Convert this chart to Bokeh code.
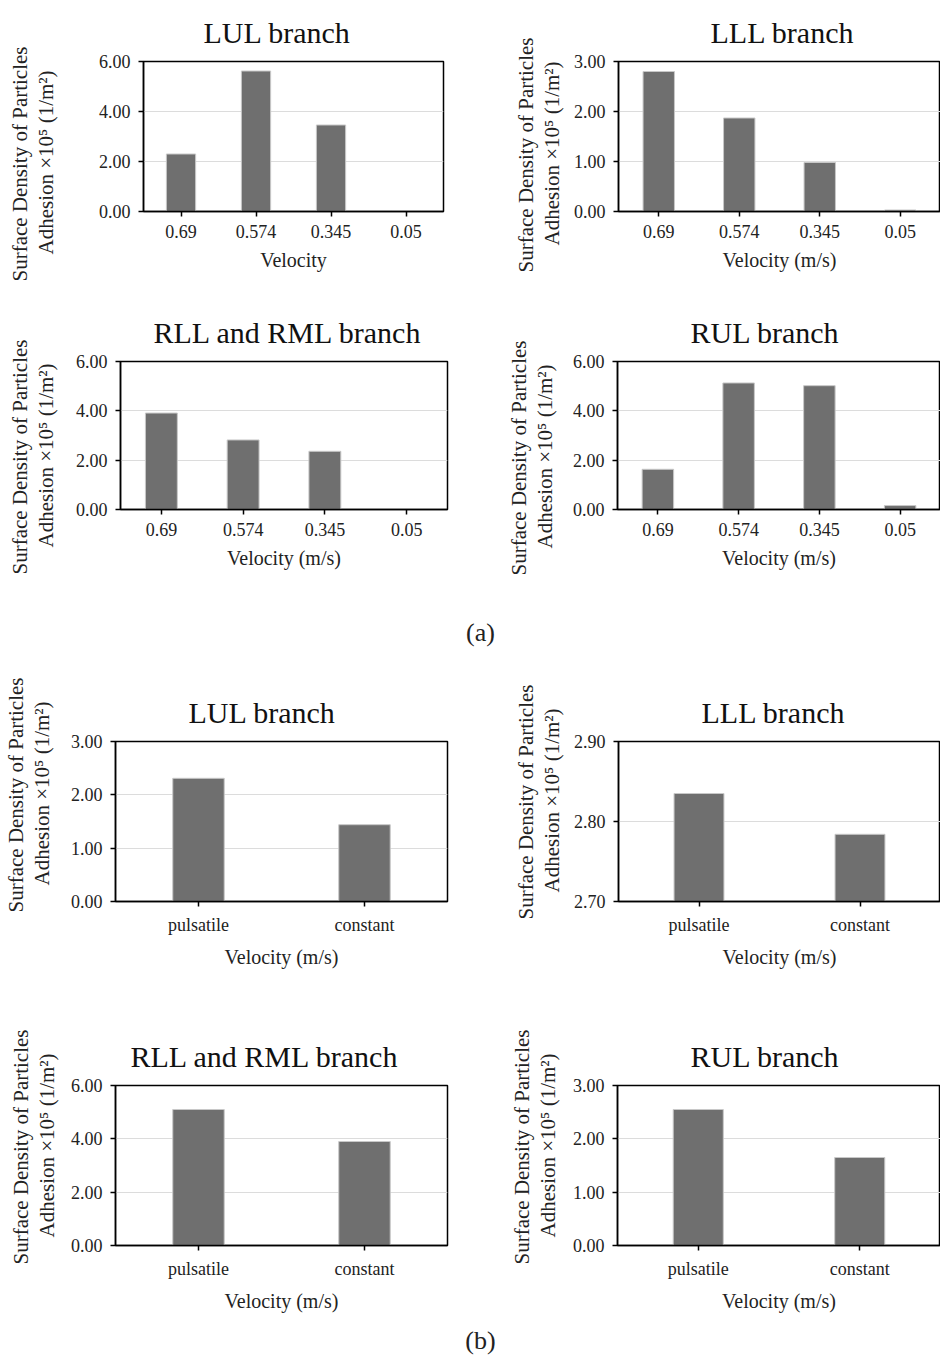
from bokeh.plotting import figure
from bokeh.layouts import column, row
from bokeh.models import FactorRange, Range1d, FixedTicker, NumeralTickFormatter, Title
from bokeh.embed import file_html
from bokeh.resources import INLINE

# ---------------- data ----------------
vel_a = ["0.69", "0.574", "0.345", "0.05"]
vel_b = ["pulsatile", "constant"]

lul_a = [2.30, 5.62, 3.46, 0.03]
lll_a = [2.80, 1.87, 0.98, 0.03]
rll_a = [3.91, 2.82, 2.36, 0.01]
rul_a = [1.63, 5.13, 5.02, 0.16]

lul_b = [2.31, 1.44]
lll_b = [2.835, 2.784]
rll_b = [5.10, 3.90]
rul_b = [2.55, 1.65]

titles = ["LUL branch", "LLL branch", "RLL and RML branch", "RUL branch"]
ylabel_1 = "Surface Density of Particles"
ylabel_2 = "Adhesion \u00d710\u2075 (1/m\u00b2)"
xlabel_a1 = "Velocity"
xlabel = "Velocity (m/s)"

ticks_0_6 = [0, 2, 4, 6]
ticks_0_3 = [0, 1, 2, 3]
ticks_lll_b = [2.7, 2.8, 2.9]

FONT = "Liberation Serif"
BAR = "#6f6f6f"
TXT = "#222222"


def panel(title, cats, vals, yr, ticks, xl, width, height, bl, br, bt, bb,
          bar_w, t_offset, t_standoff, lab_gap, lab_off):
    p = figure(width=width, height=height, x_range=FactorRange(*cats),
               y_range=Range1d(yr[0], yr[1]), output_backend="svg",
               toolbar_location=None, min_border_left=bl, min_border_right=br,
               min_border_top=bt, min_border_bottom=bb)
    p.vbar(x=cats, top=vals, bottom=yr[0], width=bar_w, fill_color=BAR,
           line_color="#c8c8c8", line_width=1)
    p.title.text = title
    p.title.text_font = FONT
    p.title.text_font_size = "30px"
    p.title.text_font_style = "normal"
    p.title.text_color = "#111111"
    p.title.align = "left"
    p.title.standoff = t_standoff
    p.title.offset = t_offset
    p.outline_line_color = "black"
    p.outline_line_width = 1.5
    p.xgrid.grid_line_color = None
    p.ygrid.grid_line_color = "#dcdcdc"
    p.ygrid.grid_line_width = 1.2
    p.yaxis.ticker = FixedTicker(ticks=ticks)
    p.yaxis.formatter = NumeralTickFormatter(format="0.00")
    for ax in (p.xaxis, p.yaxis):
        ax.axis_line_color = "black"
        ax.axis_line_width = 1.5
        ax.major_tick_line_color = "black"
        ax.major_tick_line_width = 1.5
        ax.major_tick_in = 0
        ax.major_tick_out = 5
        ax.minor_tick_line_color = None
        ax.major_label_text_font = FONT
        ax.major_label_text_font_size = "18px"
        ax.major_label_text_color = TXT
        ax.axis_label_text_font = FONT
        ax.axis_label_text_font_style = "normal"
        ax.axis_label_text_color = TXT
    p.yaxis.major_label_standoff = 8
    p.xaxis.axis_label = xl
    p.xaxis.axis_label_text_font_size = "20px"
    p.xaxis.major_label_standoff = 8
    p.xaxis.axis_label_standoff = 8
    # blank spacer between the tick labels and the two-line y title
    p.add_layout(Title(text=" ", text_font_size="1px", standoff=lab_gap), "left")
    # two-line y-axis title as stacked side titles (line 2 nearest the axis)
    for txt, off in ((ylabel_2, lab_off[1]), (ylabel_1, lab_off[0])):
        t = Title(text=txt, align="left", offset=off, standoff=0,
                  text_font=FONT, text_font_size="21px",
                  text_font_style="normal", text_color=TXT)
        p.add_layout(t, "left")
    return p


# row 1 (a)
f1 = panel(titles[0], vel_a, lul_a, (0, 6), ticks_0_6, xlabel_a1, 470, 300,
           143, 27, 61, 89, 0.39, 60, 25, 35, (-70, -43))
f2 = panel(titles[1], vel_a, lll_a, (0, 3), ticks_0_3, xlabel, 470, 300,
           148, 0, 61, 89, 0.39, 92, 25, 4, (-61, -34))
# row 2 (a)
f3 = panel(titles[2], vel_a, rll_a, (0, 6), ticks_0_6, xlabel, 470, 300,
           120, 23, 61, 91, 0.39, 33, 25, 12, (-65, -38))
f4 = panel(titles[3], vel_a, rul_a, (0, 6), ticks_0_6, xlabel, 470, 300,
           147, 0, 61, 91, 0.39, 73, 25, 10, (-66, -39))
# row 3 (b)
f5 = panel(titles[0], vel_b, lul_b, (0, 3), ticks_0_3, xlabel, 470, 340,
           115, 23, 76, 104, 0.31, 73, 25, 11, (-11, 16))
f6 = panel(titles[1], vel_b, lll_b, (2.7, 2.9), ticks_lll_b, xlabel, 470, 340,
           148, 0, 76, 104, 0.31, 83, 25, 4, (-18, 9))
# row 4 (b)
f7 = panel(titles[2], vel_b, rll_b, (0, 6), ticks_0_6, xlabel, 470, 310,
           115, 23, 80, 70, 0.31, 15, 25, 6, (-19, 8))
f8 = panel(titles[3], vel_b, rul_b, (0, 3), ticks_0_3, xlabel, 470, 310,
           147, 0, 80, 70, 0.31, 73, 26, 7, (-19, 8))


def caption(txt, h, cy):
    c = figure(width=940, height=h, x_range=(0, 940), y_range=(h, 0),
               output_backend="svg", toolbar_location=None, min_border=0)
    c.text(x=[480], y=[cy], text=[txt], text_align="center",
           text_baseline="middle", text_font_size="26px", text_color=TXT,
           text_font=FONT)
    c.axis.visible = False
    c.grid.visible = False
    c.outline_line_color = None
    return c


cap_a = caption("(a)", 65, 32)
cap_b = caption("(b)", 43, 25)

layout = column(row(f1, f2, spacing=0), row(f3, f4, spacing=0), cap_a,
                row(f5, f6, spacing=0), row(f7, f8, spacing=0), cap_b,
                spacing=0)

open("out.html", "w").write(file_html(layout, INLINE))
